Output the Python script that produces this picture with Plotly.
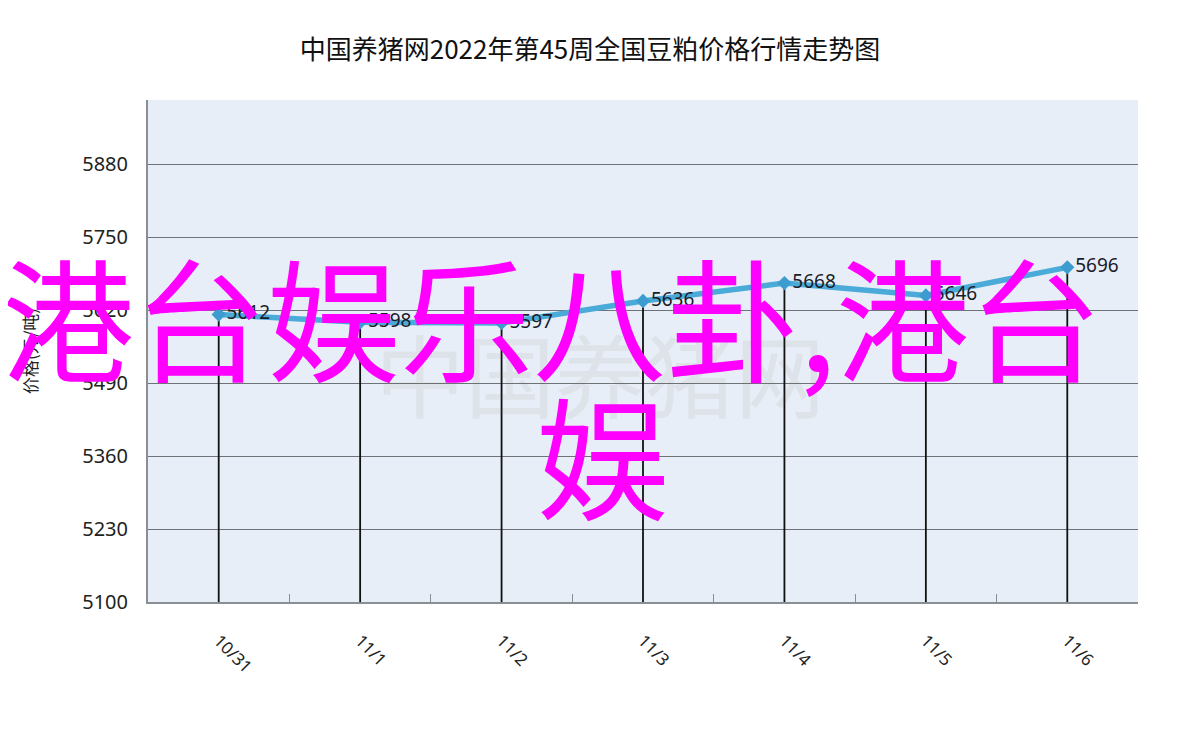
import plotly.graph_objects as go

# 中国养猪网 第45周 豆粕价格
dates = ["10/31", "11/1", "11/2", "11/3", "11/4", "11/5", "11/6"]
prices = [5612, 5598, 5597, 5636, 5668, 5646, 5696]
y_ticks = [5100, 5230, 5360, 5490, 5620, 5750, 5880]
y_floor = 5100

title_text = "中国养猪网2022年第45周全国豆粕价格行情走势图"
overlay_line1 = "港台娱乐八卦,港台"
overlay_line2 = "娱"

W, H = 1200, 730
OFF = 8  # page body margin
# plot box in page pixels: 148..1138 x 100..602
L, R, T, B = 148 - OFF, W - (1138 - OFF), 100 - OFF, H - (602 - OFF)


def px_to_paper(px, py):
    # page pixel -> paper coords of the plot area
    px, py = px - OFF, py - OFF
    return (px - L) / (W - L - R), (H - B - py) / (H - T - B)


fig = go.Figure()

# drop lines from each point down to the axis
fig.add_trace(go.Scatter(
    x=dates, y=prices, mode="markers",
    marker=dict(size=1, color="rgba(0,0,0,0)"),
    error_y=dict(type="data", symmetric=False,
                 array=[0] * len(prices),
                 arrayminus=[p - y_floor for p in prices],
                 color="#111111", thickness=1.8, width=0),
    hoverinfo="skip", showlegend=False,
))

fig.add_trace(go.Scatter(
    x=dates, y=prices, mode="lines+markers+text",
    line=dict(color="#4aaad8", width=5.5),
    marker=dict(symbol="diamond", size=11, color="#3d9ccf"),
    text=[str(p) for p in prices], textposition="middle right",
    textfont=dict(family="Noto Sans, sans-serif", size=19, color="#1b1b2a"),
    showlegend=False,
))

fig.update_layout(
    width=W, height=H,
    margin=dict(l=L, r=R, t=T, b=B),
    paper_bgcolor="white",
    plot_bgcolor="#e7eef7",
    title=dict(text=title_text, x=(590 - OFF) / W, xanchor="center",
               y=1 - (50 - OFF) / H, yanchor="middle",
               font=dict(family="Noto Sans CJK SC", size=26, color="#111")),
    font=dict(family="Noto Sans CJK SC"),
)

fig.update_yaxes(
    range=[y_floor, 5994], tickvals=y_ticks,
    showgrid=True, gridcolor="#6e7378", gridwidth=1.2,
    showline=True, linecolor="#8a8f96", linewidth=2,
    ticks="", ticklabelstandoff=14,
    tickfont=dict(family="Noto Sans, sans-serif", size=20, color="#222"),
    title=dict(text="价格(元/吨)", standoff=40,
               font=dict(family="Noto Sans CJK SC", size=17, color="#222")),
    zeroline=False,
)

fig.update_xaxes(
    type="category", range=[-0.5, len(dates) - 0.5],
    showgrid=False, showline=True, linecolor="#8a8f96", linewidth=2,
    ticks="inside", tickson="boundaries", ticklen=8, tickcolor="#8a8f96",
    tickangle=45, ticklabelstandoff=20,
    tickfont=dict(family="Noto Sans, sans-serif", size=17, color="#222"),
)

# faint site watermark
wx, wy = px_to_paper(600, 372)
fig.add_annotation(x=wx, y=wy, xref="paper", yref="paper", text="中国养猪网",
                   showarrow=False, opacity=0.07,
                   font=dict(family="Noto Sans CJK SC", size=90, color="#6a5a30"))

# magenta overlay text
ax1, ay1 = px_to_paper(551, 314)
fig.add_annotation(x=ax1, y=ay1, xref="paper", yref="paper", text=overlay_line1,
                   showarrow=False, xanchor="center", yanchor="middle",
                   font=dict(family="Noto Sans CJK SC", size=133, color="#ff00ff"))
ax2, ay2 = px_to_paper(602, 452)
fig.add_annotation(x=ax2, y=ay2, xref="paper", yref="paper", text=overlay_line2,
                   showarrow=False, xanchor="center", yanchor="middle",
                   font=dict(family="Noto Sans CJK SC", size=133, color="#ff00ff"))

fig.write_html("out.html")
